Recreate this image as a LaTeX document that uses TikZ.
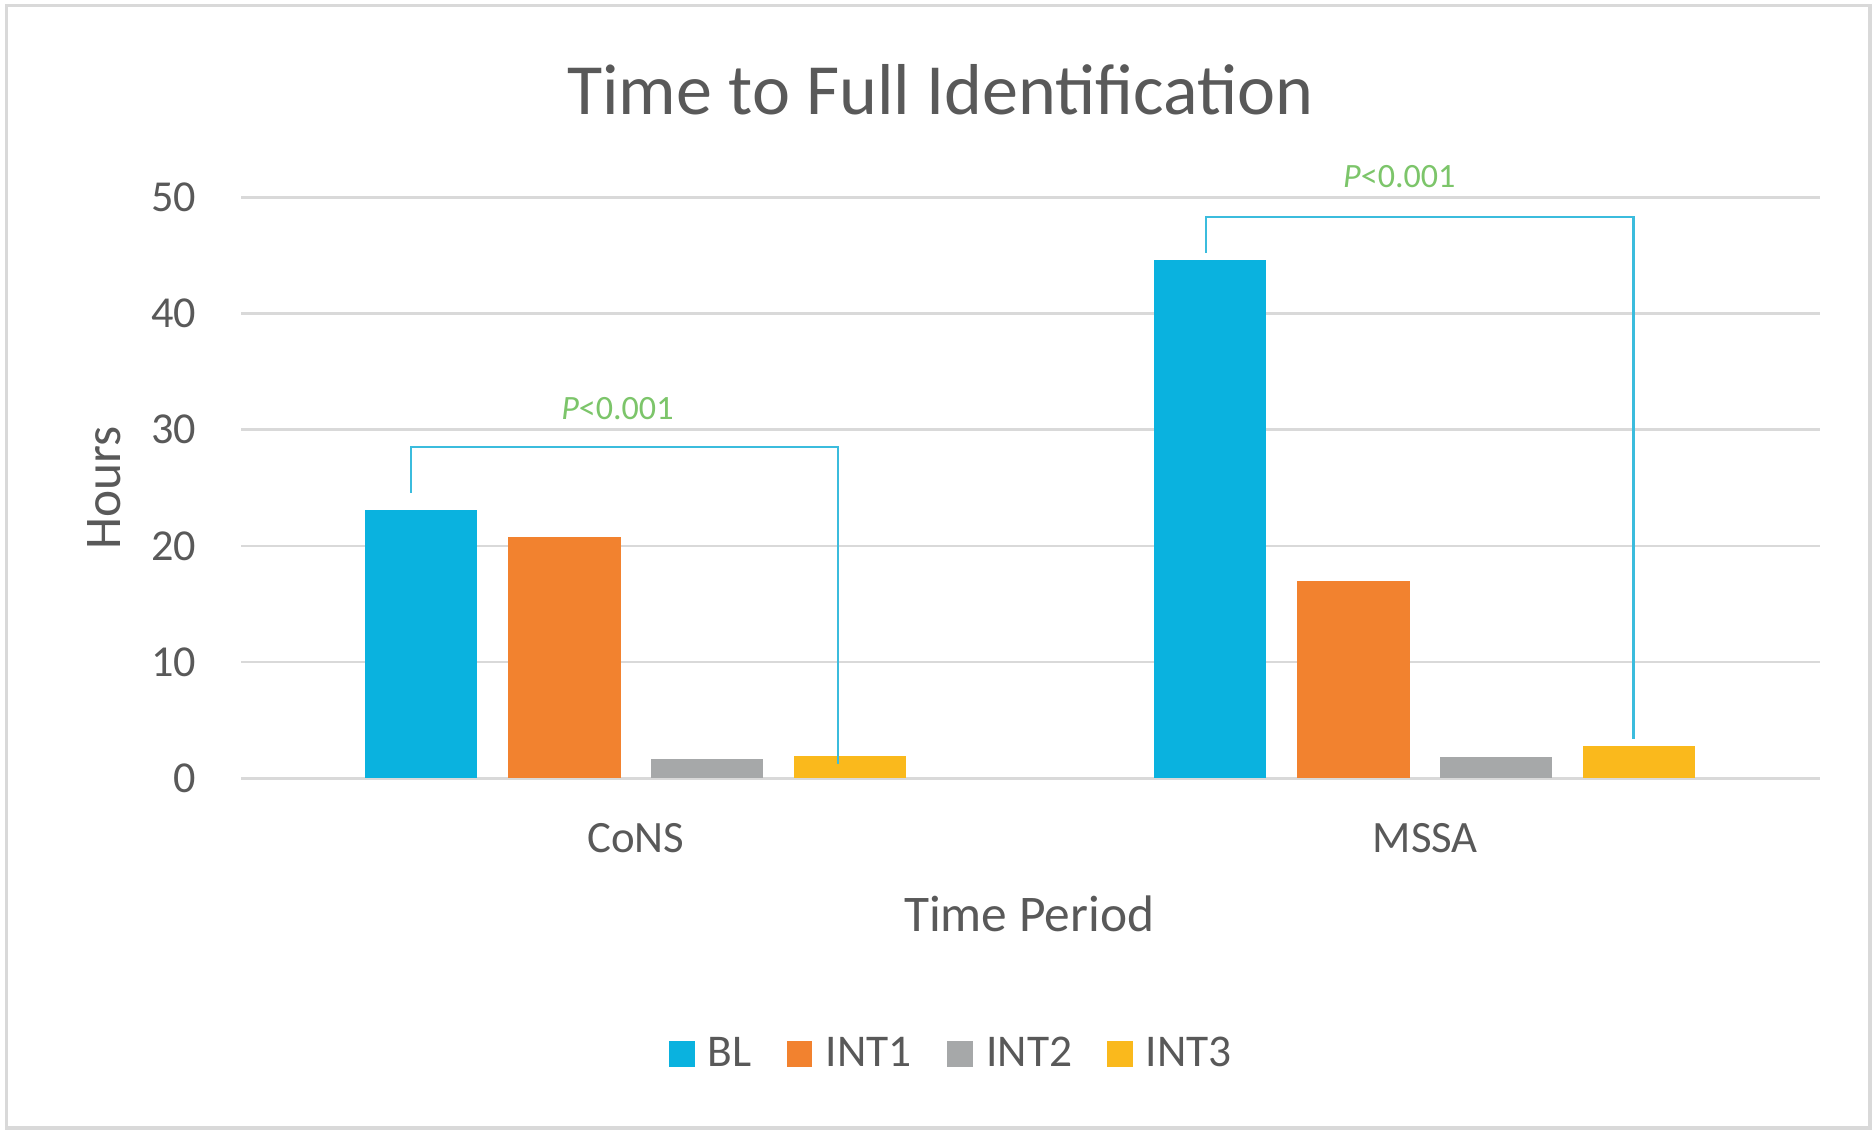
\documentclass[tikz,border=0pt]{standalone}
\usepackage{fontspec}
\setmainfont{Carlito}
\definecolor{txt}{HTML}{595959}
\definecolor{gridc}{HTML}{D9D9D9}
\definecolor{framec}{HTML}{D9D9D9}
\definecolor{cblue}{HTML}{0AB2DF}
\definecolor{corange}{HTML}{F2822F}
\definecolor{cgray}{HTML}{A6A8A9}
\definecolor{cyellow}{HTML}{FAB91C}
\definecolor{brk}{HTML}{3BBCDD}
\definecolor{pgreen}{HTML}{7CC56A}
\tikzset{
  bar/.style={rectangle, draw=none, inner sep=0pt, minimum width=94pt, anchor=south},
  ticklab/.style={anchor=east, inner sep=0pt, text=txt, font=\fontsize{37}{40}\selectfont},
  catlab/.style={anchor=base, inner sep=0pt, text=txt, font=\fontsize{37.5}{40}\selectfont},
  axtitle/.style={inner sep=0pt, text=txt, font=\fontsize{43}{46}\selectfont},
  legsq/.style={rectangle, draw=none, inner sep=0pt, minimum width=21.6pt, minimum height=21.8pt},
  leglab/.style={anchor=base west, inner sep=0pt, text=txt, font=\fontsize{38}{40}\selectfont},
  plab/.style={anchor=base, inner sep=0pt, text=pgreen, font=\fontsize{28.5}{30}\selectfont},
  bracket/.style={draw=brk, line width=1.8pt},
  gridline/.style={draw=gridc, line width=2.2pt}
}
\begin{document}
\begin{tikzpicture}[x=1pt,y=-1pt]
\useasboundingbox (0,0) rectangle (1568,947);
\fill[white] (0,0) rectangle (1568,947);
\draw[framec, line width=3pt] (5.5,4.5) rectangle (1564.5,944);

% title
\node[anchor=base, inner sep=0pt, text=txt, font=\fontsize{60.3}{64}\selectfont] (title) at (787,95.6) {Time to Full Identification};

% gridlines and tick labels
\foreach \v in {0,...,5}{
  \pgfmathtruncatemacro\lab{10*\v}
  \draw[gridline] (202,{651.2-97.24*\v}) -- (1522.5,{651.2-97.24*\v});
  \node[ticklab] (tick\v) at (164.3,{651.2-97.24*\v}) {\lab};
}

% axis titles
\node[axtitle, rotate=90] (ytitle) at (87,408) {Hours};
\node[axtitle, anchor=base] (xtitle) at (861,779.5) {Time Period};

% category labels
\node[catlab] (catA) at (532,713.1) {CoNS};
\node[catlab] (catB) at (1192.5,713.1) {MSSA};

% bars CoNS
\node[bar, fill=cblue, minimum height=224.5pt] (a1) at (352.2,651.2) {};
\node[bar, fill=corange, minimum height=201.6pt] (a2) at (472.2,651.2) {};
\node[bar, fill=cgray, minimum height=15.9pt] (a3) at (591.5,651.2) {};
\node[bar, fill=cyellow, minimum height=18.1pt] (a4) at (711.2,651.2) {};
% bars MSSA
\node[bar, fill=cblue, minimum height=433.3pt] (b1) at (1012.5,651.2) {};
\node[bar, fill=corange, minimum height=165.2pt] (b2) at (1132.4,651.2) {};
\node[bar, fill=cgray, minimum height=17.2pt] (b3) at (1251.8,651.2) {};
\node[bar, fill=cyellow, minimum height=26.8pt] (b4) at (1371.1,651.2) {};

% brackets
\coordinate (ka) at (343.6,412.2);
\coordinate (kat) at (701.1,373.7);
\coordinate (kae) at (701.1,639.2);
\draw[bracket] (ka) |- (kat) -- (kae);
\node[plab] (pa) at (516.6,351.4) {\textit{P}<0.001};

\coordinate (kb) at (1009.1,211.5);
\coordinate (kbt) at (1366.8,181.6);
\coordinate (kbe) at (1366.8,618);
\draw[bracket] (kb) |- (kbt) -- (kbe);
\node[plab] (pb) at (1170.8,156.6) {\textit{P}<0.001};

% legend
\node[legsq, fill=cblue] (l1) at (570.8,881.6) {};
\node[leglab] (t1) at (591.6,892.5) {BL};
\node[legsq, fill=corange] (l2) at (669,881.6) {};
\node[leglab] (t2) at (690.6,892.5) {INT1};
\node[legsq, fill=cgray] (l3) at (803.2,881.6) {};
\node[leglab] (t3) at (825,892.5) {INT2};
\node[legsq, fill=cyellow] (l4) at (937.2,881.6) {};
\node[leglab] (t4) at (958.4,892.5) {INT3};
\end{tikzpicture}
\end{document}
